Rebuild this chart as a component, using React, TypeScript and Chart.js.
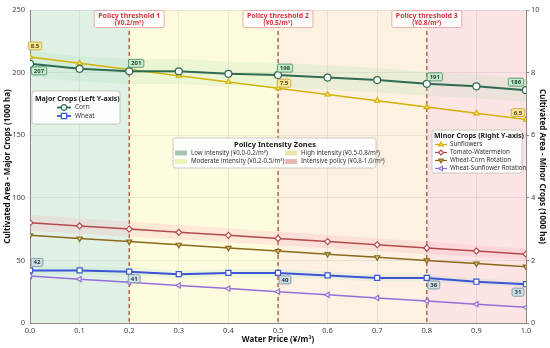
import React, { useEffect, useRef } from 'react';
import { Chart, registerables } from 'chart.js';

Chart.register(...registerables);

// ---------- data ----------
const waterPrice = [0.0, 0.1, 0.2, 0.3, 0.4, 0.5, 0.6, 0.7, 0.8, 0.9, 1.0];
const corn = [207, 203, 201, 201, 199, 198, 196, 194, 191, 189, 186];
const wheat = [42, 42, 41, 39, 40, 40, 38, 36, 36, 33, 31];
const sunflowers = [8.5, 8.3, 8.1, 7.9, 7.7, 7.5, 7.3, 7.1, 6.9, 6.7, 6.5];
const tomatoWatermelon = [3.2, 3.1, 3.0, 2.9, 2.8, 2.7, 2.6, 2.5, 2.4, 2.3, 2.2];
const wheatCornRotation = [2.8, 2.7, 2.6, 2.5, 2.4, 2.3, 2.2, 2.1, 2.0, 1.9, 1.8];
const wheatSunflowerRotation = [1.5, 1.4, 1.3, 1.2, 1.1, 1.0, 0.9, 0.8, 0.7, 0.6, 0.5];

const thresholds = [0.2, 0.5, 0.8];
const thresholdTitles = ['Policy threshold 1', 'Policy threshold 2', 'Policy threshold 3'];
const thresholdSubs = ['(¥0.2/m³)', '(¥0.5/m³)', '(¥0.8/m³)'];

const zoneEdges = [0.0, 0.2, 0.5, 0.8, 1.0];
const zoneNames = [
  'Low intensity (¥0.0-0.2/m³)',
  'Moderate intensity (¥0.2-0.5/m³)',
  'High intensity (¥0.5-0.8/m³)',
  'Intensive policy (¥0.8-1.0/m³)',
];

const majorLabelIdx = [0, 2, 5, 8, 10];
const sunLabelIdx = [0, 5, 10];

// ---------- styles ----------
const FONT = '"Noto Sans", "DejaVu Sans", sans-serif';
const C_CORN = '#2f6b50';
const C_WHEAT = '#3b55d6';
const C_SUN = '#d4b106';
const C_TOMATO = '#b54a4e';
const C_WCR = '#8a6a1c';
const C_WSR = '#9370db';
const zoneFill = ['#e2f1e6', '#fefcdf', '#fdf1e1', '#fde4e5'];
const zoneSwatch = ['#a9c7b0', '#eef3b8', '#ece3ab', '#e8b9ae'];
const THRESH = '#b5532f';

const pts = (arr: number[]) => arr.map((v, i) => ({ x: waterPrice[i], y: v }));

function drawMarker(ctx: CanvasRenderingContext2D, style: string, x: number, y: number, r: number, stroke: string, fill: string, rot = 0) {
  ctx.save();
  ctx.translate(x, y);
  ctx.rotate((rot * Math.PI) / 180);
  ctx.beginPath();
  if (style === 'circle') ctx.arc(0, 0, r, 0, Math.PI * 2);
  else if (style === 'rect') ctx.rect(-r, -r, 2 * r, 2 * r);
  else if (style === 'rectRot') {
    ctx.moveTo(0, -r); ctx.lineTo(r, 0); ctx.lineTo(0, r); ctx.lineTo(-r, 0); ctx.closePath();
  } else if (style === 'triangle') {
    ctx.moveTo(0, -r); ctx.lineTo(r * 0.9, r * 0.6); ctx.lineTo(-r * 0.9, r * 0.6); ctx.closePath();
  }
  ctx.fillStyle = fill;
  ctx.fill();
  ctx.lineWidth = 1.2;
  ctx.strokeStyle = stroke;
  ctx.stroke();
  ctx.restore();
}

function roundBox(ctx: CanvasRenderingContext2D, x: number, y: number, w: number, h: number, r: number, fill: string, stroke: string, lw = 0.8) {
  ctx.beginPath();
  ctx.roundRect(x, y, w, h, r);
  ctx.fillStyle = fill;
  ctx.fill();
  ctx.lineWidth = lw;
  ctx.strokeStyle = stroke;
  ctx.stroke();
}

function tag(ctx: CanvasRenderingContext2D, text: string, cx: number, cy: number, fill: string, stroke: string, color: string) {
  ctx.font = `bold 6px ${FONT}`;
  const w = ctx.measureText(text).width + 5;
  const h = 8;
  roundBox(ctx, cx - w / 2, cy - h / 2, w, h, 1.5, fill, stroke, 0.8);
  ctx.fillStyle = color;
  ctx.textAlign = 'center';
  ctx.textBaseline = 'middle';
  ctx.fillText(text, cx, cy + 0.3);
}

const overlayPlugin = {
  id: 'overlay',
  beforeDraw(chart: any) {
    const { ctx, chartArea, scales } = chart;
    const xs = scales.x;
    ctx.save();
    for (let i = 0; i < zoneFill.length; i++) {
      const x0 = xs.getPixelForValue(zoneEdges[i]);
      const x1 = xs.getPixelForValue(zoneEdges[i + 1]);
      ctx.fillStyle = zoneFill[i];
      ctx.fillRect(x0, chartArea.top, x1 - x0, chartArea.bottom - chartArea.top);
    }
    ctx.restore();
  },
  beforeDatasetsDraw(chart: any) {
    const { ctx, chartArea, scales } = chart;
    ctx.save();
    ctx.strokeStyle = THRESH;
    ctx.lineWidth = 1.3;
    ctx.setLineDash([4, 3]);
    thresholds.forEach((t) => {
      const x = scales.x.getPixelForValue(t);
      ctx.beginPath();
      ctx.moveTo(x, chartArea.top);
      ctx.lineTo(x, chartArea.bottom);
      ctx.stroke();
    });
    ctx.restore();
  },
  afterDraw(chart: any) {
    const { ctx, scales } = chart;
    const xs = scales.x, yl = scales.y, yr = scales.y1;
    ctx.save();

    // threshold labels
    thresholds.forEach((t, i) => {
      const x = xs.getPixelForValue(t);
      ctx.font = `bold 7px ${FONT}`;
      const w = ctx.measureText(thresholdTitles[i]).width + 8;
      roundBox(ctx, x - w / 2, 10.5, w, 17, 1.5, 'rgba(255,255,255,0.92)', '#e59a9a', 0.8);
      ctx.fillStyle = '#d3343c';
      ctx.textAlign = 'center';
      ctx.textBaseline = 'middle';
      ctx.fillText(thresholdTitles[i], x, 15.5);
      ctx.font = `bold 6.5px ${FONT}`;
      ctx.fillText(thresholdSubs[i], x, 23);
    });

    // corn tags
    const cornOff = [[9, 7], [7, -8], [7, -7], [8, -7], [-10, -8]];
    majorLabelIdx.forEach((k, j) => {
      const px = xs.getPixelForValue(waterPrice[k]);
      const py = yl.getPixelForValue(corn[k]);
      tag(ctx, String(corn[k]), px + cornOff[j][0], py + cornOff[j][1], '#c9ebcf', '#3b8a55', '#1d4a2c');
    });
    const wheatOff = [[7, -8], [5, 7], [7, 7], [7, 7], [-8, 8]];
    majorLabelIdx.forEach((k, j) => {
      const px = xs.getPixelForValue(waterPrice[k]);
      const py = yl.getPixelForValue(wheat[k]);
      tag(ctx, String(wheat[k]), px + wheatOff[j][0], py + wheatOff[j][1], '#cfe1e8', '#6d8c99', '#1e2e3a');
    });
    const sunOff = [[5, -11], [6, -5], [-8, -7]];
    sunLabelIdx.forEach((k, j) => {
      const px = xs.getPixelForValue(waterPrice[k]);
      const py = yr.getPixelForValue(sunflowers[k]);
      tag(ctx, sunflowers[k].toFixed(1), px + sunOff[j][0], py + sunOff[j][1], '#f3e49a', '#c9a227', '#5a4708');
    });

    // Major crops legend
    roundBox(ctx, 32, 91, 88, 33, 2.5, 'rgba(255,255,255,0.9)', '#bdbdbd', 0.8);
    ctx.textAlign = 'left';
    ctx.textBaseline = 'middle';
    ctx.fillStyle = '#1a1a1a';
    ctx.font = `bold 7px ${FONT}`;
    ctx.fillText('Major Crops (Left Y-axis)', 35, 98.5);
    const major = [
      { name: 'Corn', c: C_CORN, s: 'circle', r: 2.8, lw: 1.8 },
      { name: 'Wheat', c: C_WHEAT, s: 'rect', r: 2.6, lw: 1.8 },
    ];
    major.forEach((m, i) => {
      const y = 107.5 + i * 8.5;
      ctx.strokeStyle = m.c;
      ctx.lineWidth = m.lw;
      ctx.beginPath();
      ctx.moveTo(57, y);
      ctx.lineTo(71, y);
      ctx.stroke();
      drawMarker(ctx, m.s, 64, y, m.r, m.c, '#fff');
      ctx.fillStyle = '#333';
      ctx.font = `6.5px ${FONT}`;
      ctx.fillText(m.name, 75, y);
    });

    // Zone legend
    roundBox(ctx, 173, 138, 203, 30, 2.5, 'rgba(255,255,255,0.9)', '#bdbdbd', 0.8);
    ctx.fillStyle = '#1a1a1a';
    ctx.font = `bold 7.5px ${FONT}`;
    ctx.textAlign = 'center';
    ctx.fillText('Policy Intensity Zones', 275, 144.5);
    ctx.textAlign = 'left';
    ctx.font = `6.2px ${FONT}`;
    const zpos = [[175, 153], [175, 161.5], [285, 153], [285, 161.5]];
    zoneNames.forEach((n, i) => {
      ctx.fillStyle = zoneSwatch[i];
      ctx.fillRect(zpos[i][0], zpos[i][1] - 2.5, 12, 5);
      ctx.fillStyle = '#333';
      ctx.fillText(n, zpos[i][0] + 16, zpos[i][1]);
    });

    // Minor crops legend
    roundBox(ctx, 432, 130, 90, 43, 2.5, 'rgba(255,255,255,0.9)', '#bdbdbd', 0.8);
    ctx.fillStyle = '#1a1a1a';
    ctx.font = `bold 7px ${FONT}`;
    ctx.fillText('Minor Crops (Right Y-axis)', 434, 136);
    const minor = [
      { name: 'Sunflowers', c: C_SUN, s: 'triangle', rot: 0, f: '#f5e27a' },
      { name: 'Tomato-Watermelon', c: C_TOMATO, s: 'rectRot', rot: 0, f: '#fff' },
      { name: 'Wheat-Corn Rotation', c: C_WCR, s: 'triangle', rot: 180, f: '#d9c48a' },
      { name: 'Wheat-Sunflower Rotation', c: C_WSR, s: 'triangle', rot: 270, f: '#fff' },
    ];
    minor.forEach((m, i) => {
      const y = 144.5 + i * 8;
      ctx.strokeStyle = m.c;
      ctx.lineWidth = 1.3;
      ctx.beginPath();
      ctx.moveTo(435, y);
      ctx.lineTo(447, y);
      ctx.stroke();
      drawMarker(ctx, m.s, 441, y, 2.4, m.c, m.f, m.rot);
      ctx.fillStyle = '#333';
      ctx.font = `6.2px ${FONT}`;
      ctx.fillText(m.name, 450, y);
    });

    ctx.restore();
  },
};

export default function App() {
  const ref = useRef<HTMLCanvasElement | null>(null);
  useEffect(() => {
    if (!ref.current) return;
    const lineDs = (label: string, data: number[], color: string, axis: string, style: string, opts: any = {}) => ({
      label,
      data: pts(data),
      yAxisID: axis,
      borderColor: color,
      backgroundColor: '#fff',
      pointBackgroundColor: opts.pbg || '#fff',
      pointBorderColor: color,
      pointBorderWidth: 1.2,
      pointStyle: style,
      pointRadius: opts.r ?? 3,
      pointRotation: opts.rot ?? 0,
      borderWidth: opts.lw ?? 1.5,
      tension: 0,
      fill: false,
    });
    const band = (data: number[], frac: number, axis: string, color: string, up: boolean, fill: any) => ({
      label: '',
      data: pts(data.map((v) => v * (up ? 1 + frac : 1 - frac))),
      yAxisID: axis,
      borderWidth: 0,
      pointRadius: 0,
      backgroundColor: color,
      borderColor: 'rgba(0,0,0,0)',
      fill,
    });
    const datasets: any[] = [
      lineDs('Corn', corn, C_CORN, 'y', 'circle', { r: 3.5, lw: 2 }),
      lineDs('Wheat', wheat, C_WHEAT, 'y', 'rect', { r: 3.6, lw: 2 }),
      lineDs('Sunflowers', sunflowers, C_SUN, 'y1', 'triangle', { r: 3, lw: 1.5, pbg: '#f5e27a' }),
      lineDs('Tomato-Watermelon', tomatoWatermelon, C_TOMATO, 'y1', 'rectRot', { r: 3, lw: 1.5 }),
      lineDs('Wheat-Corn Rotation', wheatCornRotation, C_WCR, 'y1', 'triangle', { r: 3, lw: 1.5, rot: 180, pbg: '#d9c48a' }),
      lineDs('Wheat-Sunflower Rotation', wheatSunflowerRotation, C_WSR, 'y1', 'triangle', { r: 3, lw: 1.5, rot: 270 }),
    ];
    const n = datasets.length;
    datasets.push(band(corn, 0.05, 'y', 'rgba(140,215,160,0.16)', true, false));
    datasets.push(band(corn, 0.05, 'y', 'rgba(140,215,160,0.16)', false, n));
    datasets.push(band(wheat, 0.08, 'y', 'rgba(140,215,185,0.16)', true, false));
    datasets.push(band(wheat, 0.08, 'y', 'rgba(140,215,185,0.16)', false, n + 2));
    datasets.push(band(tomatoWatermelon, 0.08, 'y1', 'rgba(250,160,175,0.2)', true, false));
    datasets.push(band(tomatoWatermelon, 0.08, 'y1', 'rgba(250,160,175,0.2)', false, n + 4));

    const tickFont = { family: FONT, size: 7.5 };
    const titleFont = { family: FONT, size: 8, weight: 'bold' as const };
    const chart = new Chart(ref.current, {
      type: 'line',
      data: { datasets },
      options: {
        animation: false,
        responsive: false,
        maintainAspectRatio: false,
        layout: { padding: { top: 10, left: 0, right: 0, bottom: 0 } },
        plugins: { legend: { display: false }, tooltip: { enabled: false } },
        scales: {
          x: {
            type: 'linear',
            min: 0,
            max: 1,
            ticks: { stepSize: 0.1, font: tickFont, color: '#444', padding: 0, callback: (v: any) => Number(v).toFixed(1) },
            grid: { color: 'rgba(0,0,0,0.07)', tickLength: 3 },
            border: { color: '#888', width: 1 },
            title: { display: true, text: 'Water Price (¥/m³)', font: titleFont, color: '#111', padding: { top: 0, bottom: 3 } },
            afterFit: (s: any) => { s.height = 25; },
          },
          y: {
            position: 'left',
            min: 0,
            max: 250,
            ticks: { stepSize: 50, font: tickFont, color: '#444', padding: 2 },
            grid: { color: 'rgba(0,0,0,0.07)', tickLength: 3 },
            border: { color: '#888', width: 1 },
            title: { display: true, text: 'Cultivated Area - Major Crops (1000 ha)', font: titleFont, color: '#111', padding: { top: 3, bottom: 3 } },
            afterFit: (s: any) => { s.width = 30; },
          },
          y1: {
            position: 'right',
            min: 0,
            max: 10,
            ticks: { stepSize: 2, font: tickFont, color: '#444', padding: 2 },
            grid: { drawOnChartArea: false, tickLength: 3, color: '#888' },
            border: { color: '#888', width: 1 },
            title: { display: true, text: 'Cultivated Area - Minor Crops (1000 ha)', font: titleFont, color: '#111', padding: { top: 3, bottom: 3 } },
            afterFit: (s: any) => { s.width = 24; },
          },
        },
      },
      plugins: [overlayPlugin],
    });
    return () => chart.destroy();
  }, []);
  return (
    <div style={{ position: 'fixed', left: 0, top: 0, width: 550, height: 348, background: '#fff' }}>
      <canvas ref={ref} width={550} height={348} style={{ display: 'block', width: 550, height: 348 }} />
    </div>
  );
}
